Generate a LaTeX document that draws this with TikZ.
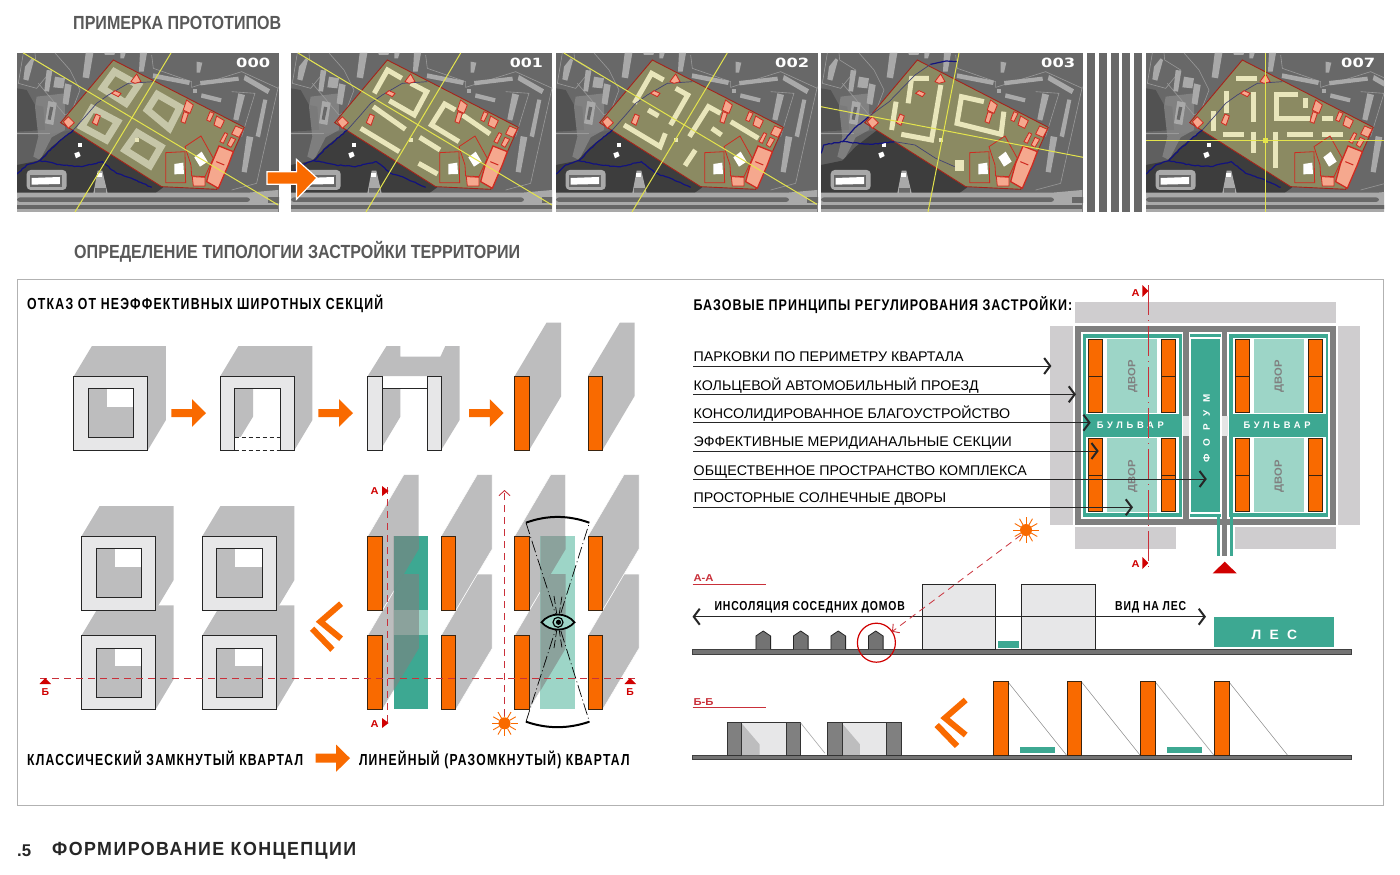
\documentclass[tikz,border=0pt]{standalone}
\usepackage{fontspec}
\setmainfont{Liberation Sans}
\newfontfamily\dvb{DejaVu Sans}[BoldFont={DejaVu Sans Bold}]
\usetikzlibrary{arrows.meta,calc,decorations.pathmorphing}
\definecolor{org}{HTML}{F96A00}
\definecolor{orgedge}{HTML}{3A2410}
\definecolor{teal1}{HTML}{3DA892}
\definecolor{teal2}{HTML}{9DD5C7}
\definecolor{shd}{HTML}{BDBDBE}
\definecolor{blk}{HTML}{CFCDCF}
\definecolor{rd}{HTML}{C9303A}
\definecolor{rd2}{HTML}{D00000}
\definecolor{pk}{HTML}{F5A88E}
\definecolor{pkl}{HTML}{CF2A20}
\definecolor{site}{HTML}{8B8A62}
\definecolor{bei}{HTML}{E9E6BB}
\definecolor{ringm}{HTML}{C6C6A8}
\definecolor{ylw}{HTML}{E4E44C}
\definecolor{riv}{HTML}{12127F}
\definecolor{rg}{HTML}{A9A9A9}
\definecolor{rl}{HTML}{9A9A9A}
\definecolor{bg0}{HTML}{686868}
\definecolor{frm}{HTML}{7F7F7F}
\definecolor{ringc}{HTML}{E7E7E8}
\tikzset{
 x=1pt,y=-1pt,
 ob/.style={fill=org,draw=orgedge,line width=0.9pt},
 bd/.style={draw=bei,line width=5pt},
 yl/.style={draw=ylw,line width=1pt},
 ptr/.style={line width=0.8pt,draw=black!85,-{Straight Barb[length=6pt,width=16pt,line width=2pt]}},
 pkf/.style={fill=pk,draw=pkl,line width=0.8pt},
 ol/.style={draw=pkl,line width=0.8pt},
 bl/.style={fill=rg},
 rdl/.style={rl,line width=.6pt},
 rivs/.style={riv,line width=1.2pt,decorate,decoration={random steps,segment length=2.5pt,amplitude=.5pt}},
 reddash/.style={draw=rd,line width=0.8pt,dash pattern=on 7pt off 5pt},
}
\newcommand\fw[3]{{\fontsize{#2}{#2}\selectfont\resizebox{#1}{\height}{#3}}}
\newcommand\tl[7][]{\node[anchor=base west,inner sep=0pt,font=\bfseries,#1] (#2) at (#3,#4) {\fw{#5pt}{#6}{#7}};}
\newcommand\lsp[1]{\addfontfeature{LetterSpace=#1}}
\newcommand\oarr[5]{\fill[org] (#1,#2-#5/2) -- ++(#3*0.6,0) -- ++(0,#5/2-#4/2) -- (#1+#3,#2) -- (#1+#3*0.6,#2+#4/2) -- ++(0,#5/2-#4/2) -- (#1,#2+#5/2) -- cycle;}
\newcommand\chev[2]{\begin{scope}[shift={(#1,#2)}]
 \draw[org,line width=6pt] (965.7,700) -- (945,718) -- (965.7,735);
 \draw[org,line width=6pt] (936.7,725) -- (957,746);
\end{scope}}
\newcommand\sunm[3]{\fill[org] (#1,#2) circle (#3);
 \foreach \a in {0,30,...,330} {\draw[org,line width=0.9pt] (#1,#2) ++(\a:#3) -- ++(\a:#3+1);}}
\newcommand\shadowsq[2]{\fill[shd] (#1,#2) -- ++(18,-30) -- ++(74,0) -- ++(0,74) -- ++(-18,30) -- ++(-74,0) -- cycle;}
\newcommand\closedsq[2]{\shadowsq{#1}{#2}
 \filldraw[fill=ringc,draw=black!85,line width=1pt] (#1,#2) rectangle ++(74,74);
 \filldraw[fill=shd,draw=none] (#1+14.5,#2+12.7) rectangle ++(45.3,49);
 \fill[white] (#1+33,#2+12.7) rectangle ++(26.8,18.3);
 \draw[black!85,line width=1pt] (#1+14.5,#2+12.7) rectangle ++(45.3,49);}
\newcommand\barshd[2]{(#1,#2) -- ++(31.8,-53.3) -- ++(14.7,0) -- ++(0,73.5) -- ++(-32,53.8) -- ++(-14.5,0) -- cycle}
\newcommand\barshdb[2]{(#1,#2) -- ++(36,-61.3) -- ++(15,0) -- ++(0,74.3) -- ++(-36.3,61) -- ++(-14.7,0) -- cycle}
\newcommand\site{(295,30) -- (688,232) -- (605,418) -- (440,410) -- (137,218) -- cycle}
\newcommand\mapp[6]{%
\begin{scope}
 \clip (#1,#2) rectangle ++(#3,159);
 \fill[bg0] (#1,#2) rectangle ++(#3,159);
 \begin{scope}[shift={(#1-2,#2-3)},x=0.3333pt,y=-0.3333pt]
  \fill[black!68] (6,115) -- (35,120) -- (60,165) -- (85,170) -- (90,240) -- (6,245) -- cycle;
  \fill[black!65,opacity=.6] (6,255) -- (90,255) -- (175,240) -- (100,340) -- (6,345) -- cycle;
  \fill[black!45!white,opacity=.7] (65,140) -- (150,130) -- (150,240) -- (110,262) -- (75,330) -- (55,320) -- (70,260) -- (60,170) -- cycle;
  \fill[black!76] (6,345) -- (70,332) -- (110,290) -- (175,240) -- (445,412) -- (420,430) -- (6,430) -- cycle;
  \draw[rdl] (6,250) -- (105,250);
  \draw[rdl] (25,9) -- (10,100) -- (65,115) -- (110,60) -- (62,30) -- (60,9);
  \draw[rdl] (70,100) -- (150,195) -- (170,185) -- (195,120) -- (165,60) -- (120,9);
  \draw[rdl] (410,15) -- (415,55) -- (530,95) -- (530,112) -- (680,65) -- (790,115);
  \draw[rdl] (790,110) -- (745,310) -- (725,400) -- (650,420);
  \draw[rdl] (650,125) -- (720,130) -- (680,260);
  \fill[bl] (30,50) -- (50,25) -- (57,30) -- (40,92) -- (25,88) -- cycle;
  \fill[bl] (95,60) -- (112,62) -- (102,125) -- (88,123) -- cycle;
  \fill[bl] (120,80) -- (150,85) -- (145,115) -- (115,112) -- cycle;
  \fill[bl] (150,100) -- (170,105) -- (160,165) -- (143,160) -- cycle;
  \fill[bl] (100,153) -- (125,158) -- (115,225) -- (90,220) -- cycle;
  \fill[bg0] (105,170) -- (115,172) -- (107,210) -- (98,208) -- cycle;
  \fill[bl] (212,9) -- (235,9) -- (222,85) -- (203,82) -- cycle;
  \fill[bl] (375,9) -- (396,9) -- (386,65) -- (372,65) -- cycle;
  \fill[bl] (316,9) -- (332,9) -- (327,25) -- (316,25) -- cycle;
  \fill[bl] (268,9) -- (300,9) -- (298,15) -- (270,15) -- cycle;
  \fill[bl] (415,70) -- (525,92) -- (522,105) -- (413,84) -- cycle;
  \fill[bl] (555,93) -- (670,80) -- (672,92) -- (557,106) -- cycle;
  \fill[bl] (690,75) -- (765,118) -- (758,132) -- (686,90) -- cycle;
  \fill[bl] (560,130) -- (620,145) -- (617,157) -- (558,143) -- cycle;
  \fill[bl] (535,116) -- (545,116) -- (545,130) -- (535,130) -- cycle;
  \fill[bl] (545,35) -- (562,38) -- (555,68) -- (545,68) -- cycle;
  \fill[bl] (670,130) -- (690,135) -- (670,212) -- (655,208) -- cycle;
  \fill[bl] (745,148) -- (757,150) -- (735,262) -- (722,258) -- cycle;
  \fill[bl] (695,258) -- (715,262) -- (695,368) -- (680,365) -- cycle;
  \fill[rg,rounded corners=4pt] (35,360) -- (155,360) -- (155,420) -- (35,420) -- cycle;
  \fill[bg0] (45,375) -- (140,375) -- (140,410) -- (45,410) -- cycle;
  \fill[white] (50,384) -- (135,381) -- (135,402) -- (50,404) -- cycle;
  \fill[rg] (248,362) -- (262,362) -- (278,430) -- (235,430) -- cycle;
  \fill[white] (245,368) -- (260,368) -- (260,382) -- (245,382) -- cycle;
  \fill[bg0] (240,415) -- (272,415) -- (272,430) -- (240,430) -- cycle;
  \fill[rg] (6,428) -- (700,428) -- (790,420) -- (790,486) -- (6,486) -- cycle;
  \fill[bg0,rounded corners=3pt] (6,442) -- (705,442) -- (705,456) -- (6,456) -- cycle;
  \fill[black!60] (6,465) -- (790,465) -- (790,478) -- (6,478) -- cycle;
  \fill[bg0] (760,440) -- (795,440) -- (795,458) -- (760,458) -- cycle;
  \fill[white] (178,310) -- (192,305) -- (197,318) -- (183,325) -- cycle;
  \fill[white] (190,280) -- (200,280) -- (200,290) -- (190,290) -- cycle;
  \filldraw[fill=site,draw=pkl!80!black,line width=0.9pt] \site;
 \end{scope}
 #5
 \begin{scope}[shift={(#1-2,#2-3)},x=0.3333pt,y=-0.3333pt]
  \fill[bei] (360,265) rectangle ++(12,12);
  \ifnum#6=1
   \draw[rivs] (6,372) -- (35,345) -- (75,332) -- (110,295) -- (175,240);
   \draw[rivs] (75,332) -- (140,345) -- (200,350) -- (262,335) -- (305,370) -- (350,385) -- (410,412);
   \draw[riv!60!site,line width=.7pt] (175,240) -- (215,195) -- (245,160) -- (280,135) -- (340,100) -- (415,95);
  \fi
  \draw[ol] (452,308) -- (510,305) -- (512,398) -- (452,398) -- cycle;
  \draw[ol] (510,290) -- (558,258) -- (595,325) -- (570,380) -- (530,378) -- (528,345) -- cycle;
  \filldraw[pkf] (160,200) -- (178,218) -- (160,235) -- (145,215) -- cycle;
  \filldraw[pkf] (243,192) -- (256,198) -- (246,226) -- (232,218) -- cycle;
  \filldraw[pkf] (355,85) -- (365,72) -- (378,95) -- (360,100) -- (348,95) -- cycle;
  \filldraw[pkf] (300,122) -- (318,130) -- (310,140) -- (290,130) -- cycle;
  \filldraw[pkf] (515,150) -- (535,165) -- (525,190) -- (505,180) -- cycle;
  \filldraw[pkf] (507,185) -- (520,190) -- (510,220) -- (498,215) -- cycle;
  \filldraw[pkf] (585,185) -- (597,190) -- (585,215) -- (575,210) -- cycle;
  \filldraw[pkf] (605,198) -- (628,212) -- (617,235) -- (597,225) -- cycle;
  \filldraw[pkf] (662,228) -- (685,238) -- (672,262) -- (650,252) -- cycle;
  \filldraw[pkf] (630,248) -- (638,252) -- (625,280) -- (615,275) -- cycle;
  \filldraw[pkf] (648,262) -- (662,268) -- (648,292) -- (637,285) -- cycle;
  \filldraw[pkf,line width=1.3pt] (612,288) -- (655,305) -- (640,345) -- (610,415) -- (575,395) -- (590,340) -- cycle;
  \draw[pkl,line width=1pt] (604,335) -- (628,345);
  \filldraw[pkf] (532,380) -- (570,382) -- (570,408) -- (535,408) -- cycle;
  \fill[white] (478,342) -- (505,338) -- (507,372) -- (478,373) -- cycle;
  \fill[white] (538,322) -- (560,305) -- (578,335) -- (555,350) -- cycle;
 \end{scope}
\end{scope}}
\begin{document}
\begin{tikzpicture}
\useasboundingbox (0,0) rectangle (1400,875);
\fill[white] (0,0) rectangle (1400,875);
% ---------- maps
\mapp{17}{53}{262}{000}{%
 \begin{scope}[shift={(15,50)},x=0.3333pt,y=-0.3333pt]
  \foreach \p in {{(298,65) -- (370,105) -- (333,160) -- (262,115) -- cycle},{(427,133) -- (495,172) -- (463,235) -- (397,180) -- cycle},{(232,175) -- (308,215) -- (274,270) -- (200,230) -- cycle},{(367,248) -- (438,290) -- (405,347) -- (330,300) -- cycle}} {\draw[draw=ringm,line width=7pt] \p;}
 \end{scope}}{1}
\draw[yl] (23.3,53) -- (278.3,205);
\draw[yl] (171,53) -- (75,212);
\mapp{291}{53}{261}{001}{%
 \begin{scope}[shift={(0,40)},x=0.35714pt,y=-0.3333pt]
  \draw[bd] (1125,115) -- (1085,90) -- (1048,160);
  \draw[bd] (1090,182) -- (1160,225) -- (1195,155) -- (1150,130);
  \draw[bd] (1045,200) -- (1135,268);
  \draw[bd] (1010,265) -- (1118,335);
  \draw[bd] (1175,292) -- (1232,330);
  \draw[bd] (1172,370) -- (1225,402);
  \draw[bd] (1275,210) -- (1245,192) -- (1208,255) -- (1285,305);
  \draw[bd] (1295,225) -- (1372,282);
 \end{scope}}{1}
\begin{scope}
 \clip (291,53) rectangle ++(261,159);
 \draw[yl] (298,53) -- (552,205);
 \draw[yl] (460.7,53) -- (366,212);
\end{scope}
\mapp{556}{53}{262}{002}{%
 \begin{scope}[shift={(550,45)},x=0.34435pt,y=-0.3333pt]
  \draw[bd] (330,105) -- (295,85) -- (245,175);
  \draw[bd] (365,130) -- (400,150) -- (350,240);
  \draw[bd] (285,195) -- (315,213);
  \draw[bd] (215,240) -- (320,305) -- (335,265);
  \draw[bd] (495,205) -- (460,185) -- (405,275);
  \draw[bd] (470,250) -- (498,270);
  \draw[bd] (525,230) -- (605,280);
  \draw[bd] (422,315) -- (392,362);
 \end{scope}}{1}
\begin{scope}
 \clip (556,53) rectangle ++(262,159);
 \draw[yl] (563.8,53) -- (817,204.3);
 \draw[yl] (727.3,53) -- (632,212);
\end{scope}
\mapp{821}{53}{262}{003}{%
 \begin{scope}[shift={(550,45)},x=0.34435pt,y=-0.3333pt]
  \draw[bd] (1100,100) -- (1050,100) -- (1040,175);
  \draw[bd] (1135,120) -- (1108,285) -- (1020,268);
  \draw[bd] (1005,170) -- (992,255);
  \draw[bd] (1260,170) -- (1195,155) -- (1182,235) -- (1310,268) -- (1318,200);
  \fill[bei] (1175,345) rectangle (1203,378);
  \draw[rivs] (787,325) -- (795,300) -- (850,290) -- (880,255) -- (925,215);
  \draw[riv!60!site,line width=.7pt] (925,215) -- (985,170) -- (1060,90) -- (1105,58);
  \draw[riv,line width=1.2pt] (1105,58) -- (1150,48) -- (1185,50);
  \draw[rivs] (850,290) -- (930,298) -- (1000,290);
  \draw[riv!60!site,line width=.7pt] (1000,290) -- (1060,300) -- (1120,340) -- (1175,365);
 \end{scope}}{0}
\begin{scope}
 \clip (821,53) rectangle ++(262,159);
 \draw[yl] (821,106.7) -- (1083,157.3);
 \draw[yl] (959,53) -- (928,212);
\end{scope}
\mapp{1146}{53}{238}{007}{%
 \begin{scope}[shift={(1080,45)},x=0.3333pt,y=-0.3333pt]
  \draw[bd] (468,102) -- (532,102);
  \draw[bd] (441,138) -- (441,205);
  \draw[bd] (522,140) -- (522,232);
  \draw[bd] (400,198) -- (400,258);
  \draw[bd] (655,150) -- (590,150) -- (590,222) -- (690,222);
  \draw[bd] (678,158) -- (678,190);
  \draw[bd] (725,222) -- (760,222);
  \draw[bd] (428,268) -- (492,268);
  \draw[bd] (522,260) -- (522,325);
  \draw[bd] (588,260) -- (588,370);
  \draw[bd] (622,268) -- (700,268);
  \draw[bd] (725,268) -- (788,268);
 \end{scope}}{1}
\draw[yl] (1146,140.7) -- (1384,140.7);
\draw[yl] (1265.7,53) -- (1265.7,212);
\fill[ylw] (1263,138) rectangle ++(5,5);
\foreach \sx in {1087,1099,1111,1122,1134} {\fill[bg0] (\sx,53) rectangle ++(8,159);}
\tl[font=\dvb\bfseries,text=white]{m0}{236}{67.7}{34}{12.7}{000}
\tl[font=\dvb\bfseries,text=white]{m1}{509.6}{67.7}{33}{12.7}{001}
\tl[font=\dvb\bfseries,text=white]{m2}{775}{67.7}{34}{12.7}{002}
\tl[font=\dvb\bfseries,text=white]{m3}{1041}{67.7}{34}{12.7}{003}
\tl[font=\dvb\bfseries,text=white]{m7}{1341}{67.7}{34}{12.7}{007}
% big orange arrow
\filldraw[fill=org,draw=white,line width=1.2pt,line join=miter] (267,171.7) -- (296.4,171.7) -- (296.4,159.3) -- (317,178) -- (296.4,199.3) -- (296.4,184.3) -- (267,184.3) -- cycle;
% ---------- headers
\tl[text=black!65]{h1}{73}{30}{208}{19}{ПРИМЕРКА ПРОТОТИПОВ}
\tl[text=black!65]{h2}{74}{258}{446}{19}{ОПРЕДЕЛЕНИЕ ТИПОЛОГИИ ЗАСТРОЙКИ ТЕРРИТОРИИ}
\draw[black!30,line width=1pt] (17,279) rectangle (1383,805);
\tl{h3}{27}{309}{356}{16}{\lsp{10}ОТКАЗ ОТ НЕЭФФЕКТИВНЫХ ШИРОТНЫХ СЕКЦИЙ}
\tl{h4}{693.5}{310.5}{378.5}{15.5}{\lsp{8}БАЗОВЫЕ ПРИНЦИПЫ РЕГУЛИРОВАНИЯ ЗАСТРОЙКИ:}
\tl[text=black!85]{f1}{17}{856}{14}{17}{.5}
\tl[text=black!85]{f2}{52}{855}{304}{19}{\lsp{8}ФОРМИРОВАНИЕ КОНЦЕПЦИИ}
% ---------- row 1
\closedsq{73.9}{376}
\shadowsq{220.4}{376}
\fill[white] (234.7,388.7) rectangle (280.4,450);
\fill[shd] (234.7,388.7) -- (253,388.7) -- (253,416.7) -- (234.7,446.7) -- cycle;
\filldraw[fill=ringc,draw=black!85,line width=1pt] (220.4,450) -- (220.4,376) -- (294.4,376) -- (294.4,450) -- (280.4,450) -- (280.4,388.7) -- (234.7,388.7) -- (234.7,450) -- cycle;
\fill[white] (235.2,437.3) rectangle (279.9,450.5);
\draw[black!85,line width=1pt,dash pattern=on 4pt off 3pt] (234.7,437.3) -- (280.4,437.3) (234.7,450) -- (280.4,450);
\fill[shd] (367.8,376) -- (386.5,346) -- (400.4,346) -- (400.4,356.7) -- (440.4,356.7) -- (445.3,346) -- (459.6,346) -- (459.6,420) -- (441.2,450) -- (427.3,450) -- (427.3,376) -- (382.4,376) -- (382.4,450) -- cycle;
\fill[shd] (382.4,388.7) -- (400.4,388.7) -- (400.4,416.7) -- (382.4,446.7) -- cycle;
\draw[black!85,line width=.9pt] (382.4,388.7) -- (427.3,388.7);
\filldraw[fill=ringc,draw=black!85,line width=1pt] (367.8,376) rectangle (382.4,450);
\filldraw[fill=ringc,draw=black!85,line width=1pt] (427.3,376) rectangle (441.2,450);
\fill[shd] \barshd{514.7}{376};
\fill[shd] \barshd{588}{376};
\filldraw[ob] (514.7,376) rectangle ++(14.4,74);
\filldraw[ob] (588,376) rectangle ++(14.4,74);
\oarr{171.4}{413}{34.6}{27.6}{8}
\oarr{318.4}{413}{34.6}{27.6}{8}
\oarr{469}{413}{34.6}{27.6}{8}
% ---------- row 2 left
\closedsq{81.6}{635.3}
\closedsq{202.4}{635.3}
\closedsq{81.6}{536}
\closedsq{202.4}{536}
\chev{-624.6}{-96.3}
% ---------- centre group
\foreach \bx in {367.8,441.2,514.7,588} {
 \filldraw[fill=shd,draw=white,line width=.5pt] \barshdb{\bx}{635.3};
 \filldraw[fill=shd,draw=white,line width=.5pt] \barshdb{\bx}{536};
}
\fill[teal1] (393.5,536) rectangle (428.2,610);
\fill[teal1] (393.5,635.3) rectangle (428.2,709.3);
\fill[teal2] (393.5,610) rectangle (428.2,635.3);
\fill[teal2] (540.4,536) rectangle (575.1,709.3);
\begin{scope}
 \clip (393.5,536) rectangle (428.2,709.3) (540.4,536) rectangle (575.1,709.3);
 \foreach \bx in {367.8,514.7} {
  \fill[black!50,opacity=.6] \barshdb{\bx}{635.3};
  \fill[black!50,opacity=.6] \barshdb{\bx}{536};
 }
\end{scope}
\foreach \bx in {367.8,441.2,514.7,588} {
 \filldraw[ob] (\bx,536) rectangle ++(14.4,74);
 \filldraw[ob] (\bx,635.3) rectangle ++(14.4,74);
}
% eye
\draw[black,line width=2pt] (526,522.7) .. controls (547,515) and (568,515) .. (589.4,522.7);
\draw[black,line width=2pt] (526,721.7) .. controls (547,729) and (568,729) .. (589.4,721.7);
\draw[black,line width=.7pt,dash pattern=on 12pt off 3pt on 1pt off 3pt] (526,522.7) -- (558,622) -- (589.4,522.7);
\draw[black,line width=.7pt,dash pattern=on 12pt off 3pt on 1pt off 3pt] (526,721.7) -- (558,622) -- (589.4,721.7);
\draw[black,line width=.7pt,dash pattern=on 8pt off 3pt] (554,596) -- (558,622) -- (562,596) (554,648) -- (558,622) -- (562,648);
\filldraw[fill=teal2,draw=black,line width=1.7pt] (541.5,622.3) .. controls (550,612) and (566,612) .. (574.5,622.3) .. controls (566,632) and (550,632) .. (541.5,622.3) -- cycle;
\filldraw[fill=teal2,draw=black,line width=1.2pt] (558,622.3) circle (5);
\fill[black] (558.5,622.3) circle (2.6);
% red section lines
\draw[reddash] (40,678) -- (636,678);
\draw[reddash] (387.3,487) -- (387.3,726);
\fill[rd2] (45.3,678) -- (51,684) -- (39.5,684) -- cycle;
\fill[rd2] (630,678) -- (636,684) -- (624.5,684) -- cycle;
\tl[text=rd2]{bl}{41.5}{695}{7.5}{10}{Б}
\tl[text=rd2]{br}{626.2}{695}{7.5}{10}{Б}
\fill[rd2] (382,486) -- (388.6,491) -- (382,496) -- cycle;
\fill[rd2] (382,718) -- (388.6,723) -- (382,728) -- cycle;
\tl[text=rd2]{at}{370.5}{494.5}{8}{10}{А}
\tl[text=rd2]{ab}{370.5}{727}{8}{10}{А}
\sunm{504.5}{723.3}{6}
\coordinate (sunb) at (504.5,716);
\coordinate (arrt) at (504.5,490);
\draw[reddash,-{Straight Barb[length=5pt,width=11pt,line width=.9pt]}] (sunb) -- (arrt);
% captions
\tl{c1}{27}{765}{276}{16}{\lsp{10}КЛАССИЧЕСКИЙ ЗАМКНУТЫЙ КВАРТАЛ}
\oarr{315.5}{758.2}{34.5}{27}{9}
\tl{c2}{358.8}{765}{270.6}{16}{\lsp{10}ЛИНЕЙНЫЙ (РАЗОМКНУТЫЙ) КВАРТАЛ}
% ---------- plan
\fill[blk] (1074.7,301.7) rectangle (1335.7,323.3);
\fill[blk] (1050,326) rectangle (1073.3,525);
\fill[blk] (1337.7,326) rectangle (1360.3,525);
\fill[blk] (1074.7,527.3) rectangle (1175.7,549.3);
\fill[blk] (1235,527.3) rectangle (1335.7,549.3);
\fill[frm] (1074.7,326) rectangle (1335.7,525);
\fill[white] (1080.7,331.7) rectangle (1330,519.3);
\fill[frm] (1183.3,326) rectangle (1189,525);
\fill[frm] (1221.7,326) rectangle (1227.3,525);
\fill[black!10] (1182.7,415.7) rectangle (1189,435.7);
\fill[black!10] (1221.7,415.7) rectangle (1228,435.7);
\fill[teal1] (1082.7,334) rectangle (1181.7,517.3);
\fill[teal1] (1229,334) rectangle (1328,517.3);
\fill[teal1] (1190.7,339) rectangle (1220,512.3);
\fill[teal1] (1189.5,333.5) rectangle (1221,337);
\fill[teal1] (1189.5,514) rectangle (1221,517.3);
\foreach \bx/\dx/\ax/\ex in {1086/1106.7/1088.3/1161.3,1232.5/1253.7/1235/1308.3} {
 \fill[white] (\bx,338) rectangle ++(93,75.7);
 \fill[white] (\bx,437) rectangle ++(93,76);
 \fill[teal2] (\dx,339) rectangle ++(50.6,73.7);
 \fill[teal2] (\dx,438.3) rectangle ++(50.6,74);
 \filldraw[ob] (\ax,339.5) rectangle ++(14.2,73);
 \filldraw[ob] (\ex,339.5) rectangle ++(14.6,73);
 \filldraw[ob] (\ax,438.3) rectangle ++(14.2,73.4);
 \filldraw[ob] (\ex,438.3) rectangle ++(14.6,73.4);
 \draw[orgedge,line width=.8pt] (\ax,376) -- ++(14.2,0) (\ex,376) -- ++(14.6,0) (\ax,475) -- ++(14.2,0) (\ex,475) -- ++(14.6,0);
}
\fill[teal1] (1216.7,517) rectangle (1220,556);
\fill[teal1] (1230,517) rectangle (1233.3,556);
\fill[frm] (1221.7,519) rectangle (1227.3,556);
\fill[rd2] (1224.7,561.7) -- (1236.7,573.3) -- (1212.7,573.3) -- cycle;
\foreach \nm/\px/\py in {d1/1132.7/376,d2/1132.7/476,d3/1279.3/376,d4/1279.3/476} {
 \node[rotate=90,inner sep=0pt,font=\bfseries,text=black!50] (\nm) at (\px,\py) {\fw{32pt}{10.5}{ДВОР}};
}
\node[inner sep=0pt,font=\bfseries,text=white,anchor=center] (bu1) at (1130.3,425) {\fw{67pt}{9.5}{\lsp{40}БУЛЬВАР}};
\node[inner sep=0pt,font=\bfseries,text=white,anchor=center] (bu2) at (1277.2,425) {\fw{67pt}{9.5}{\lsp{40}БУЛЬВАР}};
\node[rotate=90,inner sep=0pt,font=\bfseries,text=white] (fo) at (1206.7,428.3) {\fw{68.7pt}{9.5}{\lsp{80}ФОРУМ}};
% A-A section line on plan
\draw[rd,line width=.9pt,dash pattern=on 30pt off 5pt on 1pt off 5pt] (1148.3,285) -- (1148.3,569);
\fill[rd2] (1142.3,285) -- (1148.3,291) -- (1142.3,297) -- cycle;
\fill[rd2] (1142.3,557) -- (1148.3,563) -- (1142.3,569) -- cycle;
\tl[text=rd2]{pa1}{1131.5}{296}{8}{10}{А}
\tl[text=rd2]{pa2}{1131.5}{567}{8}{10}{А}
% labelled arrows
\foreach \nm/\yb/\lw/\yl/\ex/\txt in {a/361.7/270/366/1051.4/ПАРКОВКИ ПО ПЕРИМЕТРУ КВАРТАЛА,b/390/285/394.3/1076/КОЛЬЦЕВОЙ АВТОМОБИЛЬНЫЙ ПРОЕЗД,c/418.3/316.5/422.7/1090.7/КОНСОЛИДИРОВАННОЕ БЛАГОУСТРОЙСТВО,d/446.7/318/451/1098.7/ЭФФЕКТИВНЫЕ МЕРИДИАНАЛЬНЫЕ СЕКЦИИ,e/475/333/479/1206.8/ОБЩЕСТВЕННОЕ ПРОСТРАНСТВО КОМПЛЕКСА,f/502.7/252.6/507.3/1133/ПРОСТОРНЫЕ СОЛНЕЧНЫЕ ДВОРЫ} {
 \node[anchor=base west,inner sep=0pt] (lab\nm) at (693.5,\yb) {\fw{\lw pt}{14}{\txt}};
 \coordinate (s\nm) at (693,\yl);
 \coordinate (e\nm) at (\ex,\yl);
 \draw[ptr] (s\nm) -- (e\nm);
}
% ---------- section A-A
\tl[text=rd]{aa}{693.4}{581.7}{20}{10}{А-А}
\draw[rd,line width=.9pt] (692.5,584) -- (766,584);
\filldraw[fill=black!55,draw=black!75,line width=.7pt] (692.5,649.5) rectangle (1351,654.3);
\foreach \hx in {755.9,793.4,830.9,868.4} {
 \filldraw[fill=black!55,draw=black!85,line width=.8pt] (\hx,649.3) -- (\hx,636) -- (\hx+7.3,631) -- (\hx+14.7,636) -- (\hx+14.7,649.3);
}
\filldraw[fill=ringc,draw=black!85,line width=.9pt] (922,584) rectangle (995.6,649.3);
\filldraw[fill=ringc,draw=black!85,line width=.9pt] (1021.5,584) rectangle (1095,649.3);
\fill[teal1] (998,641) rectangle (1019.3,648);
\draw[rd2,line width=1.2pt] (876.4,642.7) ellipse (19 and 19.5);
\coordinate (ll) at (692.5,616.7);
\coordinate (lr) at (1206,616.7);
\draw[line width=.8pt,draw=black!85,{Straight Barb[length=6pt,width=16pt,line width=2pt]}-{Straight Barb[length=6pt,width=16pt,line width=2pt]}] (ll) -- (lr);
\tl{i1}{714.4}{610.5}{190.2}{13}{\lsp{8}ИНСОЛЯЦИЯ СОСЕДНИХ ДОМОВ}
\tl{i2}{1115}{610.5}{71}{13}{\lsp{8}ВИД НА ЛЕС}
\fill[teal1] (1214.4,617.3) rectangle (1334,647.3);
\tl[text=white]{le}{1251.4}{639}{45.6}{13.5}{\lsp{60}ЛЕС}
\sunm{1026}{530}{6}
\coordinate (sunc) at (1021,535);
\coordinate (tipc) at (892,631.7);
\draw[reddash,-{Straight Barb[length=5pt,width=11pt,line width=.9pt]}] (sunc) -- (tipc);
% ---------- section B-B
\tl[text=rd]{bb}{693.4}{705}{20}{10}{Б-Б}
\draw[rd,line width=.9pt] (692.5,707.7) -- (766,707.7);
\filldraw[fill=black!55,draw=black!75,line width=.7pt] (692.5,755) rectangle (1351,759);
\foreach \bx in {726.9,827.3} {
 \fill[ringc] (\bx,722.7) rectangle ++(73.6,32.3);
 \fill[shd] (\bx+14.7,723.3) -- (\bx+32.6,744.3) -- (\bx+32.6,755) -- (\bx+14.7,755) -- cycle;
 \filldraw[fill=black!50,draw=black!80,line width=.7pt] (\bx,722.7) rectangle ++(14.7,32.3);
 \filldraw[fill=black!50,draw=black!80,line width=.7pt] (\bx+59.1,722.7) rectangle ++(14.5,32.3);
 \draw[black!80,line width=.9pt] (\bx,722.7) -- ++(73.6,0);
}
\draw[black!35,line width=.6pt] (800.5,722.7) -- (825,753.3);
\foreach \ox in {993.4,1067,1140.7,1214.4} {
 \draw[black!40,line width=.6pt] (\ox+14.6,682) -- (\ox+73,755);
 \filldraw[ob] (\ox,681.7) rectangle ++(14.6,73.3);
}
\fill[teal1] (1020,746.7) rectangle (1055,752.7);
\fill[teal1] (1167,746.7) rectangle (1202,752.7);
\chev{0}{0}
\end{tikzpicture}
\end{document}
